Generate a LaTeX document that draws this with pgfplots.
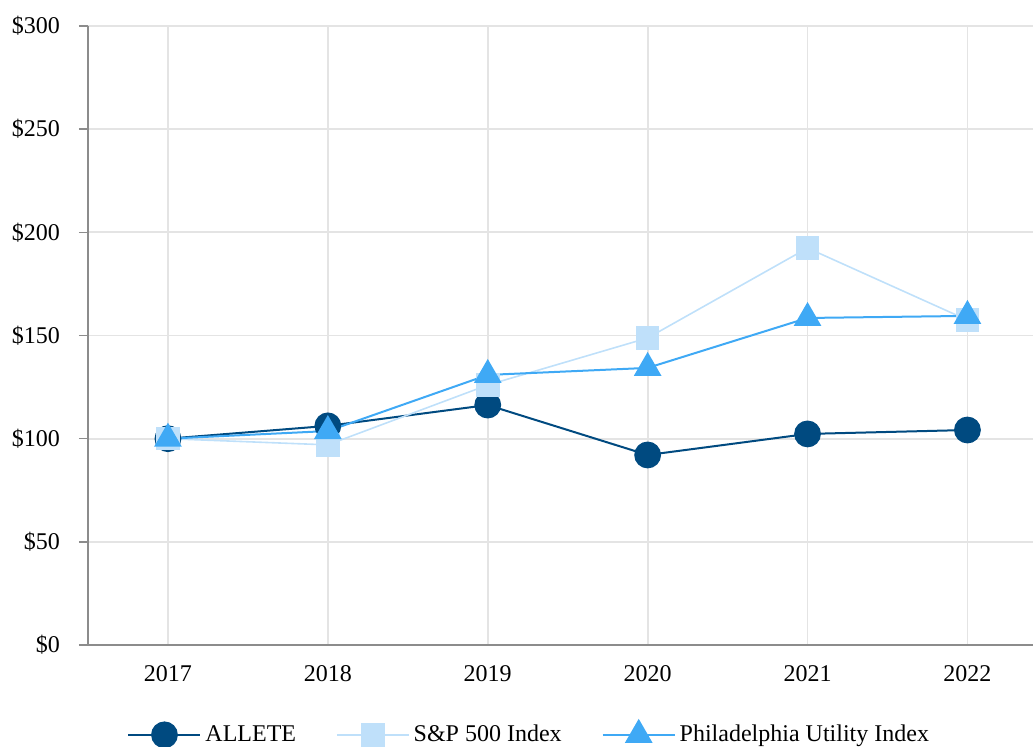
\documentclass[border=0pt]{standalone}
\usepackage{pgfplots}
\pgfplotsset{compat=1.18}
\usepackage{fontspec}
\setmainfont{Liberation Serif}

\definecolor{allete}{RGB}{0,74,128}
\definecolor{spx}{RGB}{191,224,250}
\definecolor{phlx}{RGB}{63,169,245}
\definecolor{gridgray}{RGB}{228,228,228}
\definecolor{axgray}{RGB}{140,140,140}

\begin{document}
\begin{tikzpicture}
\begin{axis}[
    name=ax,
    scale only axis,
    width=472.5pt, height=309.5pt,
    xmin=-0.5, xmax=5.41,
    ymin=0, ymax=300,
    xtick={0,1,2,3,4,5},
    xticklabels={2017,2018,2019,2020,2021,2022},
    ytick={0,50,100,150,200,250,300},
    yticklabels={\$0,\$50,\$100,\$150,\$200,\$250,\$300},
    axis x line*=bottom,
    axis y line*=left,
    axis line style={draw=axgray, line width=0.8pt},
    grid=major,
    major grid style={draw=gridgray, line width=0.9pt},
    tick align=outside,
    major tick length=4.5pt,
    xtick style={draw=none},
    ytick style={draw=axgray, line width=0.8pt},
    tick label style={font=\fontsize{12}{14}\selectfont, text=black},
    /pgf/number format/assume math mode=true,
    yticklabel style={xshift=-6pt},
    xticklabel style={yshift=-2pt},
    legend columns=3,
    legend style={draw=none, fill=none, at={(0.468,-0.145)}, anchor=center,
        font=\fontsize{12}{14}\selectfont,
        /tikz/every even column/.append style={column sep=18pt}},
    legend image code/.code={%
        \draw[mark repeat=2,mark phase=2] plot coordinates {(0pt,0pt) (18pt,0pt) (36pt,0pt)};},
    clip=false,
]
\addplot[allete, line width=1pt, mark=*, mark size=6.2pt, mark options={solid, fill=allete}]
    coordinates {(0,100) (1,106.2) (2,116.3) (3,92.1) (4,102.3) (5,104.2)};
\addlegendentry{ALLETE}
\addplot[spx, line width=0.8pt, mark=square*, mark size=5.5pt, mark options={solid, fill=spx}]
    coordinates {(0,100) (1,97) (2,126) (3,148.8) (4,192.4) (5,157.5)};
\addlegendentry{S\&P 500 Index}
\addplot[phlx, line width=1pt, mark=triangle*, mark size=7pt, mark options={solid, fill=phlx}]
    coordinates {(0,100) (1,103.7) (2,130.9) (3,134.3) (4,158.5) (5,159.5)};
\addlegendentry{Philadelphia Utility Index}
\end{axis}
\pgfresetboundingbox
\path[use as bounding box] ([xshift=-44pt,yshift=-50.5pt]ax.south west) rectangle ([xshift=-44pt+516.5pt,yshift=-50.5pt+373pt]ax.south west);
\end{tikzpicture}
\end{document}
